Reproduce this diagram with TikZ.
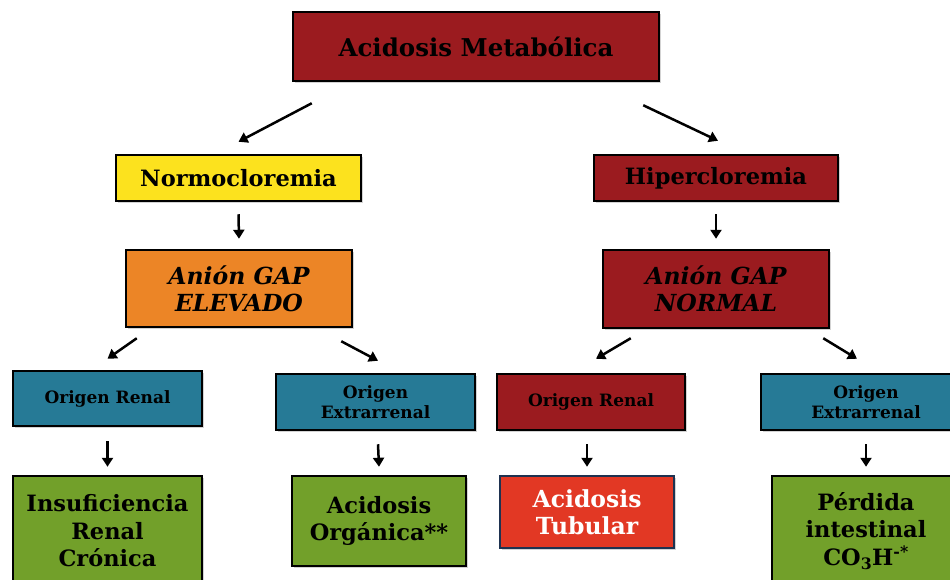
\documentclass[tikz,border=0pt]{standalone}
\usepackage{fontspec}
\setmainfont{DejaVu Serif}
\usetikzlibrary{shadows,arrows.meta}
\definecolor{dred}{RGB}{155,27,31}
\definecolor{cyel}{RGB}{252,226,30}
\definecolor{cora}{RGB}{236,133,38}
\definecolor{cblu}{RGB}{38,122,150}
\definecolor{cgrn}{RGB}{114,160,42}
\definecolor{ctub}{RGB}{226,56,36}
\definecolor{ctubb}{RGB}{30,50,80}
\begin{document}
\begin{tikzpicture}[x=1pt,y=-1pt,
  box/.style={draw=black, line width=2.5pt, rectangle, inner sep=0pt, align=center,
     font=\bfseries, text=black,
     drop shadow={shadow xshift=2pt, shadow yshift=-2pt, opacity=0.35}},
  arr/.style={-{Triangle[length=9pt,width=11pt]}, line width=2.5pt, black}]
\useasboundingbox (0,0) rectangle (950,580);
\begin{scope}
\clip (0,0) rectangle (950,580);
\node[box, fill=dred, minimum width=366pt, minimum height=69pt, font=\bfseries\fontsize{24.5}{28}\selectfont] (top) at (476,46.5) {Acidosis Metabólica};
\node[box, fill=cyel, minimum width=245pt, minimum height=46pt, font=\bfseries\fontsize{22.5}{26}\selectfont] (normo) at (238.5,178) {Normocloremia};
\node[box, fill=dred, minimum width=244pt, minimum height=46pt, font=\bfseries\fontsize{22.5}{26}\selectfont] (hiper) at (716,178) {Hipercloremia};
\node[box, fill=cora, minimum width=226pt, minimum height=77pt, font=\bfseries\itshape\fontsize{23.5}{27}\selectfont] (anE) at (239,288.5) {Anión GAP\\ELEVADO};
\node[box, fill=dred, minimum width=226pt, minimum height=78pt, font=\bfseries\itshape\fontsize{23.5}{27}\selectfont] (anN) at (716,289) {Anión GAP\\NORMAL};
\node[box, fill=cblu, minimum width=189pt, minimum height=55pt, font=\bfseries\fontsize{17}{20}\selectfont] (orR1) at (107.5,398.5) {Origen Renal};
\node[box, fill=cblu, minimum width=199pt, minimum height=56pt, font=\bfseries\fontsize{17}{20}\selectfont] (orE1) at (375.5,402) {Origen\\Extrarrenal};
\node[box, fill=dred, minimum width=188pt, minimum height=56pt, font=\bfseries\fontsize{17}{20}\selectfont] (orR2) at (591,402) {Origen Renal};
\node[box, fill=cblu, minimum width=210pt, minimum height=56pt, font=\bfseries\fontsize{17}{20}\selectfont] (orE2) at (866,402) {Origen\\Extrarrenal};
\node[box, fill=cgrn, minimum width=189pt, minimum height=110pt, font=\bfseries\fontsize{22.5}{27.5}\selectfont] (insuf) at (107.5,531) {Insuficiencia\\Renal\\Crónica};
\node[box, fill=cgrn, minimum width=174pt, minimum height=90pt, font=\bfseries\fontsize{22.5}{27.5}\selectfont] (acO) at (379,521) {Acidosis\\Orgánica**};
\node[box, draw=ctubb, fill=ctub, minimum width=174pt, minimum height=72pt, text=white, font=\bfseries\fontsize{23.5}{27}\selectfont] (acT) at (587,512) {Acidosis\\Tubular};
\node[box, fill=cgrn, minimum width=188pt, minimum height=110pt, font=\bfseries\fontsize{22.5}{27.5}\selectfont] (perd) at (866,531) {Pérdida\\intestinal\\CO\textsubscript{3}H\textsuperscript{-*}};
\end{scope}
\draw[arr] ([xshift=20pt,yshift=-21pt]top.south west) -- ([yshift=12pt]normo.north);
\draw[arr] ([xshift=-17pt,yshift=-23pt]top.south east) -- ([xshift=2pt,yshift=13pt]hiper.north);
\draw[arr] ([yshift=-12pt]normo.south) -- ([yshift=10pt]anE.north);
\draw[arr] ([yshift=-12pt]hiper.south) -- ([yshift=10pt]anN.north);
\draw[arr] ([xshift=12pt,yshift=-10pt]anE.south west) -- ([yshift=11pt]orR1.north);
\draw[arr] ([xshift=-12pt,yshift=-13pt]anE.south east) -- ([xshift=2.5pt,yshift=12pt]orE1.north);
\draw[arr] ([xshift=29pt,yshift=-9pt]anN.south west) -- ([xshift=5pt,yshift=14pt]orR2.north);
\draw[arr] ([xshift=-7pt,yshift=-9pt]anN.south east) -- ([xshift=-9pt,yshift=14pt]orE2.north);
\draw[arr] ([yshift=-14pt]orR1.south) -- ([yshift=8pt]insuf.north);
\draw[arr] ([xshift=2.5pt,yshift=-13pt]orE1.south) -- ([yshift=8pt]acO.north);
\draw[arr] ([xshift=-4pt,yshift=-13pt]orR2.south) -- ([yshift=8pt]acT.north);
\draw[arr] ([yshift=-13pt]orE2.south) -- ([yshift=8pt]perd.north);
\end{tikzpicture}
\end{document}
